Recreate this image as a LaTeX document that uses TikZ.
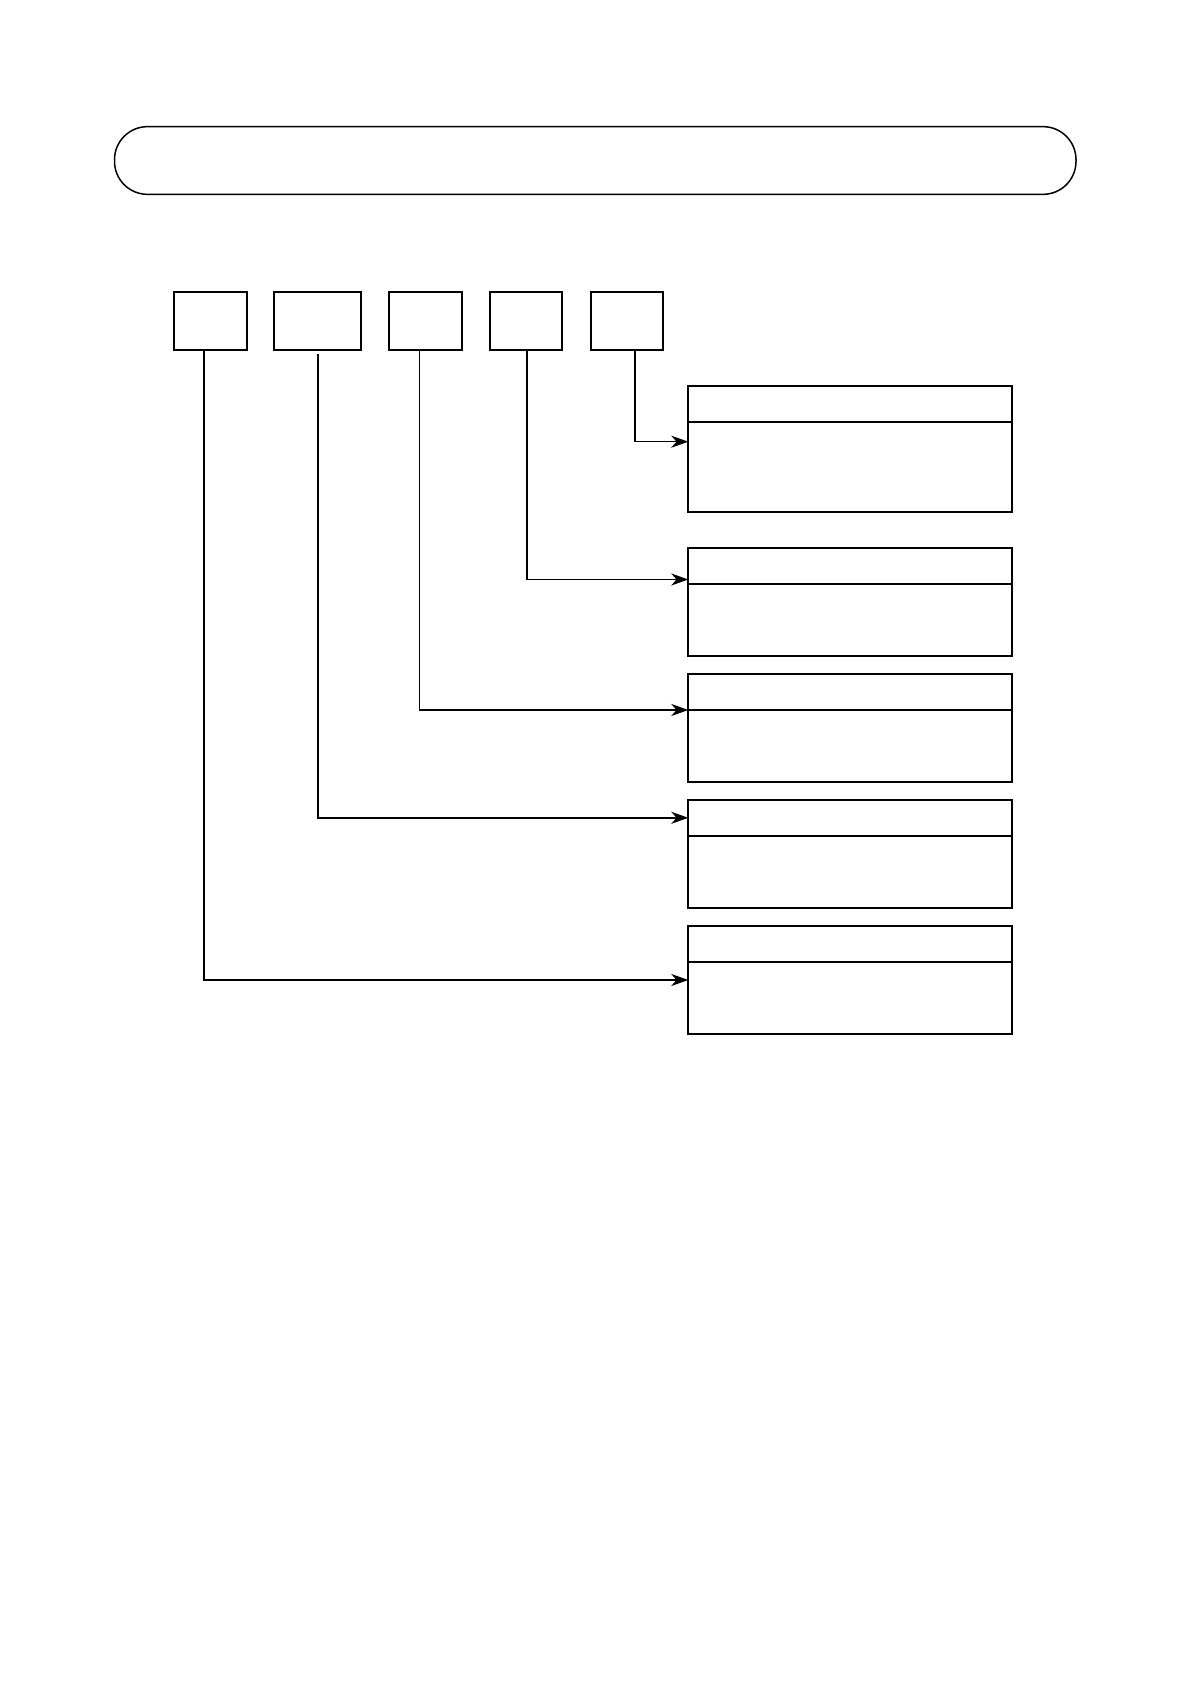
\documentclass[tikz,border=0pt]{standalone}
\usetikzlibrary{arrows.meta}
\tikzset{
  pill/.style={draw, line width=0.75pt, inner sep=0pt, outer sep=0pt, rounded corners=16.5pt,
    minimum width=480.75pt, minimum height=33.85pt},
  keybox/.style={draw, line width=1pt, inner sep=0pt, outer sep=0pt, anchor=north west, minimum height=28.75pt},
  hdrbox/.style={draw, line width=1pt, inner sep=0pt, outer sep=0pt, anchor=north west,
    minimum width=162pt, minimum height=18pt},
  bodybox/.style={draw, line width=1pt, inner sep=0pt, outer sep=0pt, anchor=north west,
    minimum width=162pt},
  conn/.style={line width=0.8pt, -{Stealth[length=8.5pt, width=6pt, inset=2.6pt]}}
}
\begin{document}
\begin{tikzpicture}[x=0.5pt, y=-0.5pt]
\useasboundingbox (0,0) rectangle (1190,1684);
% title pill
\node[pill] (title) at (595.25,160.5) {};
% small key boxes
\node[keybox, minimum width=36.25pt] (s1) at (174,292.5) {};
\node[keybox, minimum width=43.5pt]  (s2) at (274,292.5) {};
\node[keybox, minimum width=36.3pt]  (s3) at (389,292.5) {};
\node[keybox, minimum width=36.2pt]  (s4) at (489.6,292.5) {};
\node[keybox, minimum width=36.1pt]  (s5) at (590.6,292.5) {};
% right boxes: header + body
\node[hdrbox] (hA) at (688.3,385.7) {};
\node[bodybox, minimum height=45.15pt] (bA) at (688.3,421.7) {};
\node[hdrbox] (hB) at (688.3,548) {};
\node[bodybox, minimum height=36pt] (bB) at (688.3,584) {};
\node[hdrbox] (hC) at (688.3,674) {};
\node[bodybox, minimum height=36pt] (bC) at (688.3,710) {};
\node[hdrbox] (hD) at (688.3,800) {};
\node[bodybox, minimum height=36pt] (bD) at (688.3,836) {};
\node[hdrbox] (hE) at (688.3,926) {};
\node[bodybox, minimum height=36pt] (bE) at (688.3,962) {};
% bend points
\coordinate (t5) at (634.7,441.7);
\coordinate (t4) at (527,579.5);
\coordinate (t3) at (419.4,710);
\coordinate (t2) at (317.7,817.8);
\coordinate (t1) at (203.7,980);
% connectors
\draw[conn] (t5 |- s5.south) -- (t5) -- (t5 -| bA.west);
\draw[conn] (t4 |- s4.south) -- (t4) -- (t4 -| hB.west);
\draw[conn] (t3 |- s3.south) -- (t3) -- (t3 -| bC.west);
\draw[conn] ([yshift=-2pt]t2 |- s2.south) -- (t2) -- (t2 -| hD.west);
\draw[conn] (t1 |- s1.south) -- (t1) -- (t1 -| bE.west);
\end{tikzpicture}
\end{document}
